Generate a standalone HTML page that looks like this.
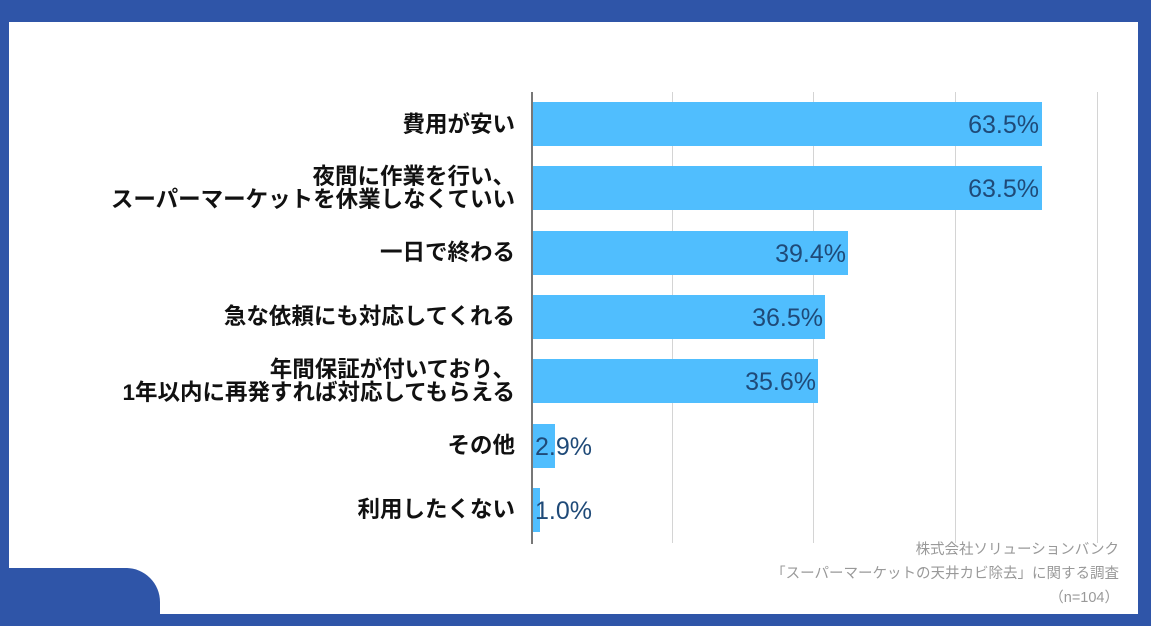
<!DOCTYPE html>
<html><head><meta charset="utf-8"><style>
body{margin:0;width:1151px;height:626px;overflow:hidden;background:#2f55a8;font-family:"Liberation Sans","Noto Sans CJK JP",sans-serif;}
#p{position:absolute;left:9px;top:22px;width:1129px;height:592px;background:#fff;}
.corner{position:absolute;left:0;top:568px;width:160px;height:58px;background:#2f55a8;border-top-right-radius:34px;}
.g{position:absolute;top:92px;height:451px;width:1px;background:#d4d4d4;}
.ax{position:absolute;left:531px;top:92px;height:452px;width:2px;background:#777;}
.bar{position:absolute;left:532px;height:44px;background:#50befe;}
.lab{position:absolute;right:636px;font-weight:bold;font-size:22.5px;line-height:23px;text-align:right;color:#111;white-space:nowrap;}
.v{position:absolute;font-size:25px;color:#1f4a78;line-height:44px;}
.src{position:absolute;right:32px;font-size:14.5px;color:#999;text-align:right;line-height:21px;}
</style></head><body>
<div id="p"></div>
<div class="corner"></div>
<div class="g" style="left:672px"></div>
<div class="g" style="left:813px"></div>
<div class="g" style="left:955px"></div>
<div class="g" style="left:1097px"></div>

<div class="bar" style="top:102px;width:510px"></div>
<div class="bar" style="top:166px;width:510px"></div>
<div class="bar" style="top:231px;width:316px"></div>
<div class="bar" style="top:295px;width:293px"></div>
<div class="bar" style="top:359px;width:286px"></div>
<div class="bar" style="top:424px;width:23px"></div>
<div class="bar" style="top:488px;width:8px"></div>
<div class="ax"></div>

<div class="lab" style="top:113px">費用が安い</div>
<div class="lab" style="top:165px">夜間に作業を行い、<br>スーパーマーケットを休業しなくていい</div>
<div class="lab" style="top:241px">一日で終わる</div>
<div class="lab" style="top:305px">急な依頼にも対応してくれる</div>
<div class="lab" style="top:358px">年間保証が付いており、<br>1年以内に再発すれば対応してもらえる</div>
<div class="lab" style="top:434px">その他</div>
<div class="lab" style="top:498px">利用したくない</div>

<div class="v" style="top:103px;right:112px">63.5%</div>
<div class="v" style="top:167px;right:112px">63.5%</div>
<div class="v" style="top:232px;right:305px">39.4%</div>
<div class="v" style="top:296px;right:328px">36.5%</div>
<div class="v" style="top:360px;right:335px">35.6%</div>
<div class="v" style="top:425px;left:535px">2.9%</div>
<div class="v" style="top:489px;left:535px">1.0%</div>

<div class="src" style="top:540px">株式会社ソリューションバンク</div>
<div class="src" style="top:564px">「スーパーマーケットの天井カビ除去」に関する調査</div>
<div class="src" style="top:588px">（n=104）</div>
</body></html>
